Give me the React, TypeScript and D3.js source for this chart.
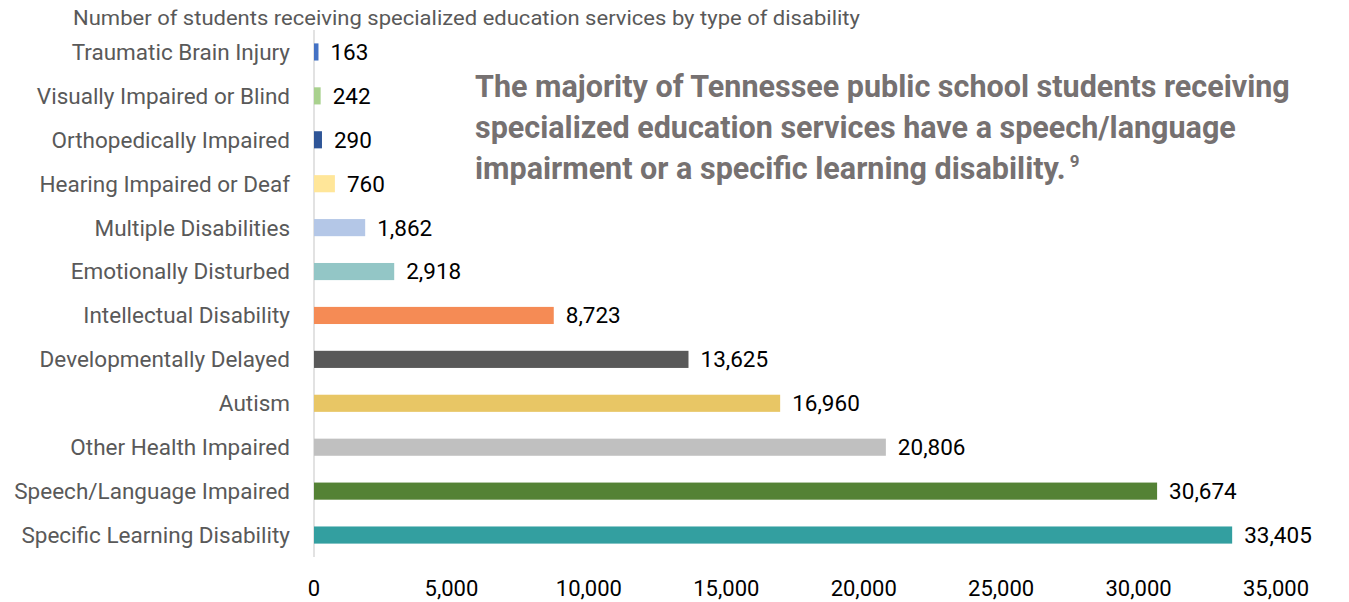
import React from "react";
import * as d3 from "d3";

const categories = [
  "Traumatic Brain Injury",
  "Visually Impaired or Blind",
  "Orthopedically Impaired",
  "Hearing Impaired or Deaf",
  "Multiple Disabilities",
  "Emotionally Disturbed",
  "Intellectual Disability",
  "Developmentally Delayed",
  "Autism",
  "Other Health Impaired",
  "Speech/Language Impaired",
  "Specific Learning Disability",
];
const values = [163, 242, 290, 760, 1862, 2918, 8723, 13625, 16960, 20806, 30674, 33405];
const colors = [
  "#4472C4", "#A9D18E", "#2F5597", "#FFE699", "#B4C7E7", "#93C6C6",
  "#F58B55", "#595959", "#E8C665", "#C0C0C0", "#548235", "#339FA0",
];
const xTicks = [0, 5000, 10000, 15000, 20000, 25000, 30000, 35000];
const title = "Number of students receiving specialized education services by type of disability";
const noteLines = [
  "The majority of Tennessee public school students receiving",
  "specialized education services have a speech/language",
  "impairment or a specific learning disability.",
];

const FONT = "'Roboto', sans-serif";

export default function App() {
  const W = 1349, H = 602;
  const x = d3.scaleLinear().domain([0, 35000]).range([314, 1276]);
  const y = d3.scaleBand().domain(categories).range([30, 557]).paddingInner(0.61).paddingOuter(0.305);
  const fmt = d3.format(",");
  return (
    <svg width={W} height={H} style={{ position: "absolute", left: 0, top: 0, background: "#fff" }} fontFamily={FONT}>
      <text x={73} y={25} fontSize={19.5} fill="#595959" textLength={787} lengthAdjust="spacingAndGlyphs">{title}</text>
      <line x1={x(0)} x2={x(0)} y1={30} y2={557} stroke="#D9D9D9" strokeWidth={1.5} />
      {categories.map((c, i) => {
        const yc = y(c)! + y.bandwidth() / 2;
        return (
          <g key={c}>
            <text x={290} y={yc} dy="0.35em" textAnchor="end" fontSize={22.5} fill="#595959">{c}</text>
            <rect x={x(0)} y={y(c)} width={x(values[i]) - x(0)} height={y.bandwidth()} fill={colors[i]} />
            <text x={x(values[i]) + 12} y={yc} dy="0.35em" fontSize={22.5} fill="#000">{fmt(values[i])}</text>
          </g>
        );
      })}
      {xTicks.map((t) => (
        <text key={t} x={x(t)} y={588} dy="0.35em" textAnchor="middle" fontSize={22} fill="#000">{fmt(t)}</text>
      ))}
      <g fontWeight="bold" fill="#767171" fontSize={30.5}>
        {noteLines.map((l, i) => (
          <text key={i} x={475} y={97 + i * 41}>
            {l}
            {i === 2 ? <tspan fontSize={17} dy={-12}>{" 9"}</tspan> : null}
          </text>
        ))}
      </g>
    </svg>
  );
}
